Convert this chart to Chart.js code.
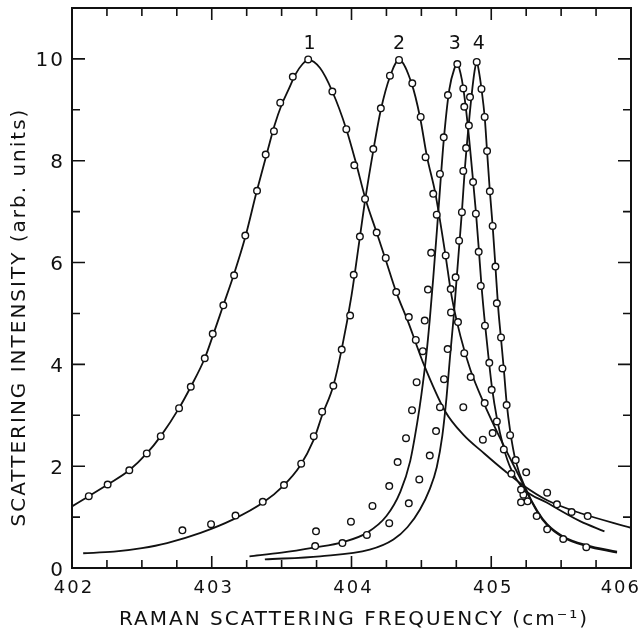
<!DOCTYPE html>
<html>
<head>
<meta charset="utf-8">
<script src="https://cdn.jsdelivr.net/npm/chart.js@4.4.1/dist/chart.umd.min.js"></script>
<style>
  html, body { margin: 0; padding: 0; background: #fff; }
  canvas { display: block; }
</style>
</head>
<body>
<canvas id="raman" width="641" height="632"></canvas>
<script>
// fitted curves (solid lines)
const fit1X = [402.00, 402.12, 402.255, 402.41, 402.535, 402.635, 402.766, 402.85, 402.95, 403.01, 403.08, 403.16, 403.24, 403.32, 403.40, 403.45, 403.50, 403.55, 403.60, 403.65, 403.69, 403.775, 403.863, 403.963, 404.03, 404.10, 404.18, 404.245, 404.32, 404.41, 404.46, 404.51, 404.67, 404.80, 404.95, 405.10, 405.23, 405.40, 405.635, 406.00];
const fit1Y = [1.21, 1.41, 1.64, 1.92, 2.25, 2.59, 3.14, 3.56, 4.12, 4.58, 5.14, 5.78, 6.50, 7.38, 8.20, 8.70, 9.10, 9.40, 9.70, 9.90, 9.98, 9.82, 9.36, 8.62, 7.98, 7.25, 6.59, 6.05, 5.42, 4.80, 4.42, 4.05, 3.08, 2.62, 2.25, 1.90, 1.62, 1.33, 1.08, 0.79];

const fit2X = [402.08, 402.30, 402.50, 402.68, 402.92, 403.15, 403.37, 403.51, 403.63, 403.73, 403.79, 403.87, 403.93, 404.00, 404.06, 404.10, 404.156, 404.21, 404.275, 404.34, 404.43, 404.49, 404.54, 404.60, 404.67, 404.717, 404.78, 404.85, 404.95, 405.06, 405.20, 405.33, 405.40, 405.515, 405.68, 405.90];
const fit2Y = [0.29, 0.32, 0.39, 0.49, 0.69, 0.95, 1.29, 1.61, 2.00, 2.52, 3.00, 3.58, 4.30, 5.35, 6.50, 7.27, 8.20, 9.00, 9.65, 9.98, 9.52, 8.86, 8.08, 7.36, 6.19, 5.33, 4.55, 3.90, 3.22, 2.57, 1.80, 1.10, 0.84, 0.60, 0.43, 0.30];

const fit3X = [403.27, 403.50, 403.73, 403.94, 404.11, 404.25, 404.35, 404.42, 404.47, 404.50, 404.536, 404.56, 404.585, 404.62, 404.66, 404.70, 404.735, 404.757, 404.78, 404.80, 404.83, 404.86, 404.89, 404.91, 404.93, 404.955, 404.98, 405.005, 405.04, 405.09, 405.14, 405.23, 405.40, 405.635, 405.81];
const fit3Y = [0.23, 0.30, 0.40, 0.51, 0.69, 1.02, 1.50, 2.10, 2.85, 3.40, 4.20, 4.88, 5.70, 6.95, 8.40, 9.40, 9.80, 9.90, 9.72, 9.42, 8.75, 7.90, 7.00, 6.30, 5.55, 4.80, 4.15, 3.55, 2.95, 2.35, 1.95, 1.56, 1.28, 0.92, 0.72];

const fit4X = [403.38, 403.775, 404.13, 404.30, 404.40, 404.49, 404.56, 404.61, 404.65, 404.68, 404.705, 404.73, 404.75, 404.77, 404.79, 404.81, 404.835, 404.86, 404.88, 404.896, 404.915, 404.93, 404.953, 404.97, 404.99, 405.01, 405.03, 405.05, 405.07, 405.09, 405.11, 405.135, 405.175, 405.25, 405.33, 405.40, 405.515, 405.68, 405.90];
const fit4Y = [0.17, 0.23, 0.36, 0.56, 0.80, 1.15, 1.55, 1.98, 2.60, 3.35, 4.15, 4.90, 5.60, 6.30, 7.00, 7.80, 8.60, 9.30, 9.75, 9.94, 9.70, 9.41, 8.86, 8.19, 7.40, 6.72, 5.92, 5.10, 4.50, 3.90, 3.25, 2.70, 2.10, 1.54, 1.12, 0.86, 0.62, 0.45, 0.32];

// measured points (open circles)
const obs1X = [402.12, 402.255, 402.41, 402.535, 402.635, 402.766, 402.85, 402.95, 403.007, 403.083, 403.16, 403.24, 403.324, 403.386, 403.445, 403.49, 403.58, 403.69, 403.863, 403.963, 404.02, 404.097, 404.18, 404.245, 404.32, 404.41, 404.46, 404.80, 404.94, 405.40, 405.47, 405.575, 405.69];
const obs1Y = [1.41, 1.64, 1.92, 2.25, 2.59, 3.14, 3.56, 4.12, 4.60, 5.16, 5.75, 6.53, 7.41, 8.12, 8.58, 9.14, 9.65, 9.99, 9.36, 8.62, 7.91, 7.25, 6.59, 6.09, 5.42, 4.93, 4.48, 3.16, 2.52, 1.48, 1.25, 1.10, 1.02];

const obs2X = [402.79, 402.995, 403.17, 403.365, 403.517, 403.64, 403.73, 403.79, 403.87, 403.93, 403.99, 404.016, 404.06, 404.156, 404.21, 404.275, 404.34, 404.435, 404.495, 404.53, 404.585, 404.61, 404.674, 404.71, 404.762, 404.807, 404.853, 404.953, 405.01, 405.144, 405.213, 405.325, 405.40, 405.515, 405.68];
const obs2Y = [0.74, 0.86, 1.03, 1.30, 1.63, 2.05, 2.59, 3.07, 3.58, 4.29, 4.96, 5.76, 6.51, 8.23, 9.03, 9.67, 9.98, 9.52, 8.86, 8.07, 7.35, 6.94, 6.14, 5.48, 4.83, 4.22, 3.75, 3.24, 2.65, 1.85, 1.54, 1.02, 0.76, 0.57, 0.41];

const obs3X = [403.74, 403.935, 404.11, 404.27, 404.33, 404.39, 404.433, 404.466, 404.51, 404.524, 404.547, 404.57, 404.633, 404.66, 404.69, 404.757, 404.80, 404.807, 404.87, 404.89, 404.91, 404.925, 404.955, 404.986, 405.003, 405.04, 405.09, 405.213, 405.23];
const obs3Y = [0.43, 0.49, 0.65, 1.61, 2.08, 2.55, 3.10, 3.65, 4.26, 4.86, 5.47, 6.19, 7.74, 8.46, 9.29, 9.90, 9.42, 9.06, 7.58, 6.96, 6.21, 5.54, 4.76, 4.03, 3.50, 2.88, 2.33, 1.29, 1.44];

const obs4X = [403.746, 403.996, 404.15, 404.27, 404.41, 404.485, 404.56, 404.605, 404.633, 404.662, 404.688, 404.712, 404.745, 404.77, 404.79, 404.80, 404.82, 404.84, 404.848, 404.896, 404.93, 404.953, 404.97, 404.99, 405.01, 405.03, 405.04, 405.07, 405.08, 405.11, 405.135, 405.175, 405.25, 405.26];
const obs4Y = [0.72, 0.91, 1.22, 0.88, 1.27, 1.74, 2.21, 2.69, 3.16, 3.71, 4.30, 5.02, 5.71, 6.43, 6.99, 7.80, 8.25, 8.69, 9.25, 9.94, 9.41, 8.86, 8.19, 7.40, 6.72, 5.92, 5.20, 4.53, 3.92, 3.20, 2.61, 2.12, 1.88, 1.31];

// peak numbers above each curve
const peakNames = ['1', '2', '3', '4'];
const peakX = [403.70, 404.34, 404.74, 404.91];
const peakLabelY = 10.34;

// axes
const xTickLabels = ['402', '403', '404', '405', '406'];
const yTickLabels = ['0', '2', '4', '6', '8', '10'];
const xMin = 402, xMax = 406, xMinorStep = 0.25;
const yMin = 0, yMax = 11, yMinorStep = 1;

const ink = '#111';
const fontName = '"DejaVu Sans", sans-serif';

function pts(xs, ys) {
  return xs.map((x, i) => ({x: x, y: ys[i]}));
}

function fitLine(xs, ys) {
  return {
    data: pts(xs, ys),
    showLine: true,
    borderColor: ink,
    borderWidth: 1.8,
    pointRadius: 0,
    cubicInterpolationMode: 'monotone',
    fill: false,
    order: 2
  };
}

function circles(xs, ys) {
  return {
    data: pts(xs, ys),
    showLine: false,
    pointRadius: 3.3,
    pointBorderWidth: 1.4,
    pointBorderColor: ink,
    pointBackgroundColor: '#fff',
    order: 1
  };
}

// frame, inward ticks and all the lettering
const boxAxes = {
  id: 'boxAxes',
  afterDraw(chart) {
    const ctx = chart.ctx;
    const xs = chart.scales.x, ys = chart.scales.y;
    const {left, right, top, bottom} = chart.chartArea;
    ctx.save();
    ctx.strokeStyle = ink;
    ctx.fillStyle = ink;
    ctx.lineWidth = 2;
    ctx.strokeRect(left, top, right - left, bottom - top);

    ctx.lineWidth = 1.6;
    const nx = Math.round((xMax - xMin) / xMinorStep);
    for (let i = 0; i <= nx; i++) {
      const v = xMin + i * xMinorStep;
      const px = xs.getPixelForValue(v);
      const len = (i % 4 === 0) ? 12 : 8;
      ctx.beginPath();
      ctx.moveTo(px, bottom); ctx.lineTo(px, bottom - len);
      ctx.moveTo(px, top); ctx.lineTo(px, top + len);
      ctx.stroke();
    }
    const ny = Math.round((yMax - yMin) / yMinorStep);
    for (let i = 0; i <= ny; i++) {
      const py = ys.getPixelForValue(yMin + i * yMinorStep);
      const len = (i % 2 === 0) ? 13 : 8;
      ctx.beginPath();
      ctx.moveTo(left, py); ctx.lineTo(left + len, py);
      ctx.moveTo(right, py); ctx.lineTo(right - len, py);
      ctx.stroke();
    }

    ctx.letterSpacing = '2px';
    ctx.textBaseline = 'alphabetic';

    // x tick labels, the last one pulled inside the canvas
    ctx.font = '18px ' + fontName;
    ctx.textAlign = 'center';
    xTickLabels.forEach(t => {
      let px = xs.getPixelForValue(Number(t)) + 2;
      const half = ctx.measureText(t).width / 2;
      if (px + half > chart.width) px = chart.width - half;
      ctx.fillText(t, px, bottom + 25);
    });

    ctx.font = '20px ' + fontName;
    ctx.textAlign = 'right';
    yTickLabels.forEach(t => {
      ctx.fillText(t, left - 7, ys.getPixelForValue(Number(t)) + 7.5);
    });

    ctx.textAlign = 'center';
    ctx.fillText('RAMAN SCATTERING FREQUENCY (cm\u207B\u00B9)', 354, 625);

    ctx.save();
    ctx.translate(25, 317);
    ctx.rotate(-Math.PI / 2);
    ctx.fillText('SCATTERING INTENSITY (arb. units)', 0, 0);
    ctx.restore();

    ctx.letterSpacing = '0px';
    ctx.font = '19px ' + fontName;
    peakNames.forEach((n, i) => {
      ctx.fillText(n, xs.getPixelForValue(peakX[i]), ys.getPixelForValue(peakLabelY) + 7);
    });
    ctx.restore();
  }
};

const config = {
  type: 'scatter',
  data: {
    datasets: [
      circles(obs1X, obs1Y),
      circles(obs2X, obs2Y),
      circles(obs3X, obs3Y),
      circles(obs4X, obs4Y),
      fitLine(fit1X, fit1Y),
      fitLine(fit2X, fit2Y),
      fitLine(fit3X, fit3Y),
      fitLine(fit4X, fit4Y)
    ]
  },
  options: {
    responsive: false,
    animation: false,
    layout: { padding: { left: 72, right: 10, top: 8, bottom: 64 } },
    plugins: {
      legend: { display: false },
      tooltip: { enabled: false }
    },
    scales: {
      x: { type: 'linear', min: xMin, max: xMax, display: false },
      y: { type: 'linear', min: yMin, max: yMax, display: false }
    }
  },
  plugins: [boxAxes]
};

const ramanChart = new Chart(document.getElementById('raman'), config);
</script>
</body>
</html>
